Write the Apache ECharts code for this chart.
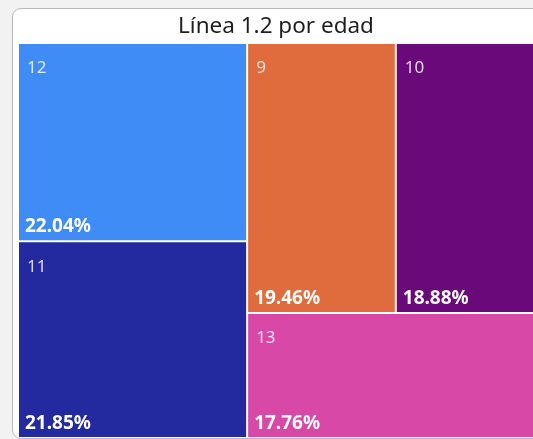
<!DOCTYPE html>
<html>
<head>
<meta charset="utf-8">
<script src="https://cdn.jsdelivr.net/npm/echarts@6/dist/echarts.min.js"></script>
<style>
  html, body { margin: 0; padding: 0; width: 533px; height: 439px; overflow: hidden; background: #f2f2f2; }
  #panel { position: absolute; left: 12px; top: 8px; width: 545px; height: 429px;
           border: 1px solid #b9b9b9; border-radius: 9px; background: #ffffff; }
  #chart { position: absolute; left: 0; top: 0; width: 552px; height: 439px; }
</style>
</head>
<body>
<div id="panel"></div>
<div id="chart"></div>
<script>
// Edades y su participación (%) en la Línea 1.2
const edades = ['12', '11', '9', '10', '13'];
const porcentajes = [22.04, 21.85, 19.46, 18.88, 17.76];
const colores = ['#3f8cf7', '#23299f', '#e06b3c', '#6a0a7a', '#d848a7'];

const titulo = 'Línea 1.2 por edad';

const chart = echarts.init(document.getElementById('chart'), null, { renderer: 'canvas' });

const fuente = '"Noto Sans", "Open Sans", sans-serif';

const area = { left: 19, top: 44, width: 520, height: 393 };

const base = {
  type: 'treemap',
  left: area.left, top: area.top, width: area.width, height: area.height,
  roam: false,
  nodeClick: false,
  animation: false,
  breadcrumb: { show: false },
  squareRatio: 0.5 * (1 + Math.sqrt(5)),
  sort: 'desc',
  emphasis: { disabled: true }
};

// Rectángulos coloreados con el nombre de la edad arriba a la izquierda
const serieNombres = Object.assign({}, base, {
  data: edades.map((e, i) => ({
    name: e,
    value: porcentajes[i],
    itemStyle: { color: colores[i] }
  })),
  levels: [{ itemStyle: { gapWidth: 2, borderWidth: 0, borderColor: '#ffffff' } }],
  label: {
    show: true,
    position: [3, 11],
    formatter: '{b}',
    color: 'rgba(255,255,255,0.82)',
    fontFamily: fuente,
    fontSize: 17
  }
});

// Capa transparente con el porcentaje abajo a la izquierda
const seriePorcentajes = Object.assign({}, base, {
  data: edades.map((e, i) => ({
    name: e,
    value: porcentajes[i],
    itemStyle: { color: 'rgba(0,0,0,0)' }
  })),
  levels: [{ itemStyle: { gapWidth: 2, borderWidth: 0, borderColor: 'rgba(0,0,0,0)', color: 'rgba(0,0,0,0)' } }],
  label: {
    show: true,
    position: 'insideBottomLeft',
    distance: 1,
    offset: [0, 2],
    formatter: p => p.value.toFixed(2) + '%',
    color: '#ffffff',
    fontFamily: fuente,
    fontWeight: 'bold',
    fontSize: 19
  }
});

chart.setOption({
  backgroundColor: 'transparent',
  title: {
    text: titulo,
    left: 'center',
    top: 10,
    textStyle: { fontFamily: fuente, fontWeight: 'normal', fontSize: 22.5, color: '#1e1e1e' }
  },
  series: [serieNombres, seriePorcentajes]
});
</script>
</body>
</html>
